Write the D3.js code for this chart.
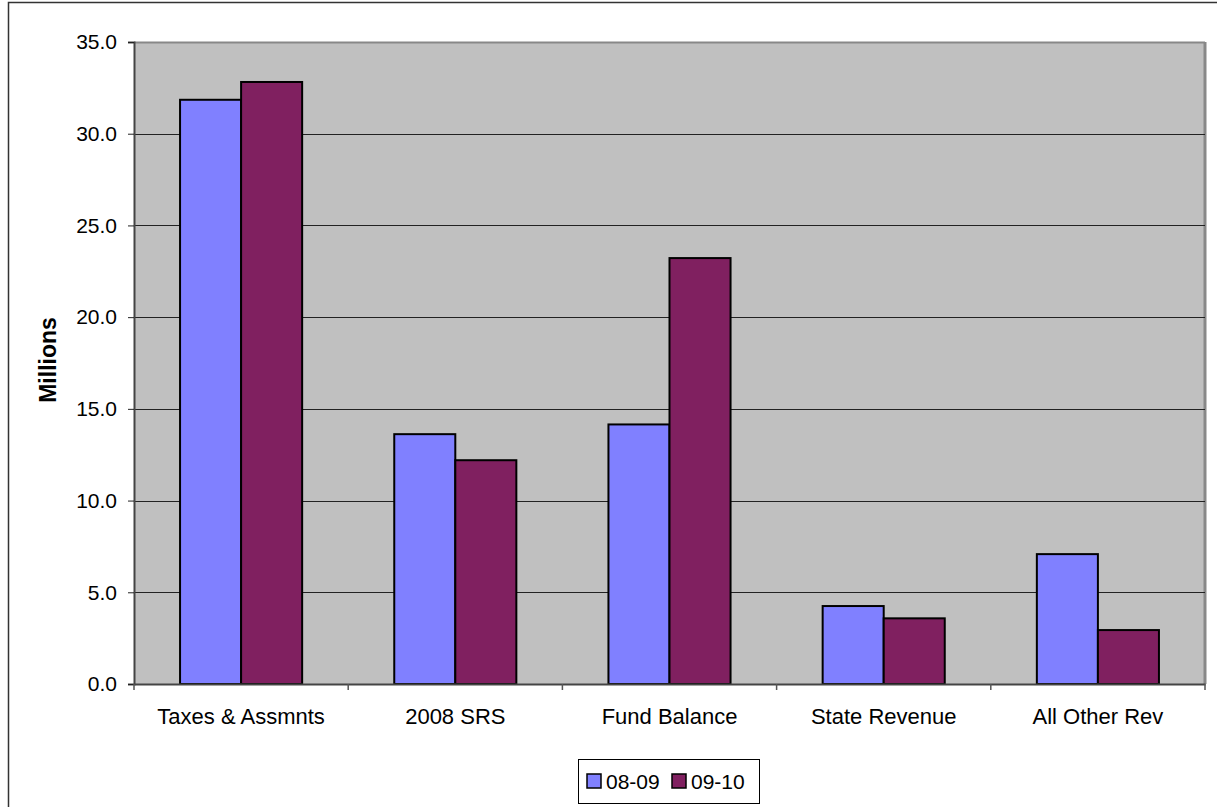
<!DOCTYPE html>
<html>
<head>
<meta charset="utf-8">
<script src="https://cdn.jsdelivr.net/npm/d3@7"></script>
<style>
  body { margin: 0; background: #fff; }
  svg { font-family: "Liberation Sans", Arial, sans-serif; }
</style>
</head>
<body>
<svg width="1217" height="807"></svg>
<script>
// values in millions
var categories = ["Taxes & Assmnts", "2008 SRS", "Fund Balance", "State Revenue", "All Other Rev"];
var series = ["08-09", "09-10"];
var values0809 = [31.85, 13.62, 14.15, 4.25, 7.08];
var values0910 = [32.82, 12.2, 23.22, 3.58, 2.94];
var yTicks = [0, 5, 10, 15, 20, 25, 30, 35];
var colors = ["#8080FF", "#802060"];

var svg = d3.select("svg"),
    margin = {top: 42, right: 12, bottom: 123, left: 134},
    width = +svg.attr("width") - margin.left - margin.right,
    height = +svg.attr("height") - margin.top - margin.bottom;

// outer chart border
svg.append("rect")
    .attr("x", 8.5).attr("y", 2.5)
    .attr("width", 1217).attr("height", 820)
    .attr("fill", "none")
    .attr("stroke", "#333")
    .attr("stroke-width", 1.5);

var g = svg.append("g")
    .attr("transform", "translate(" + margin.left + "," + margin.top + ")");

var x0 = d3.scaleBand().domain(categories).range([0, width]).paddingInner(0.43).paddingOuter(0.215);
var x1 = d3.scaleBand().domain(series).range([0, x0.bandwidth()]);
var xb = d3.scaleBand().domain(categories).range([0, width]);
var y = d3.scaleLinear().domain([0, 35]).range([height, 0]);

// plot area
g.append("rect")
    .attr("width", width).attr("height", height)
    .attr("fill", "#C0C0C0");
g.append("line")
    .attr("x1", 0).attr("x2", width).attr("y1", 0.5).attr("y2", 0.5)
    .attr("stroke", "#888").attr("stroke-width", 2);
g.append("line")
    .attr("x1", width).attr("x2", width).attr("y1", 0).attr("y2", height)
    .attr("stroke", "#888").attr("stroke-width", 3);

// gridlines
g.selectAll(".grid")
  .data(yTicks.slice(1, -1))
  .enter().append("line")
    .attr("class", "grid")
    .attr("x1", 0).attr("x2", width)
    .attr("y1", function(d) { return Math.round(y(d)) + 0.5; })
    .attr("y2", function(d) { return Math.round(y(d)) + 0.5; })
    .attr("stroke", "#222").attr("stroke-width", 1);

var data = categories.map(function(c, i) {
  return {cat: c, vals: [values0809[i], values0910[i]]};
});

g.selectAll(".grp")
  .data(data)
  .enter().append("g")
    .attr("transform", function(d) { return "translate(" + x0(d.cat) + ",0)"; })
  .selectAll("rect")
  .data(function(d) { return d.vals.map(function(v, j) { return {s: series[j], v: v, j: j}; }); })
  .enter().append("rect")
    .attr("x", function(d) { return x1(d.s); })
    .attr("y", function(d) { return y(d.v); })
    .attr("width", x1.bandwidth())
    .attr("height", function(d) { return height - y(d.v); })
    .attr("fill", function(d) { return colors[d.j]; })
    .attr("stroke", "#000")
    .attr("stroke-width", 2);

// y axis
var yAxis = g.append("g")
    .call(d3.axisLeft(y).tickValues(yTicks).tickFormat(d3.format(".1f")).tickSize(6).tickPadding(11));
yAxis.select(".domain").attr("stroke", "#444").attr("stroke-width", 2);
yAxis.selectAll(".tick line").attr("stroke", "#222");
yAxis.selectAll("text")
    .attr("font-size", "21px").attr("fill", "#000")
    .attr("font-family", "Liberation Sans, Arial, sans-serif");

// x axis
var xAxis = g.append("g")
    .attr("transform", "translate(0," + height + ")")
    .call(d3.axisBottom(xb).tickSize(0).tickPadding(24));
xAxis.select(".domain").attr("stroke", "#444").attr("stroke-width", 2);
xAxis.selectAll("text")
    .attr("font-size", "22px").attr("fill", "#000")
    .attr("font-family", "Liberation Sans, Arial, sans-serif");
xAxis.selectAll(".xtick")
  .data(d3.range(categories.length + 1))
  .enter().append("line")
    .attr("class", "xtick")
    .attr("x1", function(i) { return i * xb.step(); })
    .attr("x2", function(i) { return i * xb.step(); })
    .attr("y1", 0).attr("y2", 6)
    .attr("stroke", "#555").attr("stroke-width", 1.5);

// y axis title
svg.append("text")
    .attr("transform", "translate(56,360) rotate(-90)")
    .attr("text-anchor", "middle")
    .attr("font-size", "23px")
    .attr("font-weight", "bold")
    .text("Millions");

// legend
var lg = svg.append("g").attr("transform", "translate(578,759)");
lg.append("rect")
    .attr("x", 0.5).attr("y", 0.5)
    .attr("width", 181).attr("height", 44)
    .attr("fill", "#fff").attr("stroke", "#000").attr("stroke-width", 1);
var items = lg.selectAll(".item")
  .data(series)
  .enter().append("g")
    .attr("transform", function(d, i) { return "translate(" + (9 + i * 85) + ",0)"; });
items.append("rect")
    .attr("x", 0).attr("y", 15)
    .attr("width", 14).attr("height", 14)
    .attr("fill", function(d, i) { return colors[i]; })
    .attr("stroke", "#000").attr("stroke-width", 1.5);
items.append("text")
    .attr("x", 19).attr("y", 30)
    .attr("font-size", "21px")
    .text(function(d) { return d; });
</script>
</body>
</html>
